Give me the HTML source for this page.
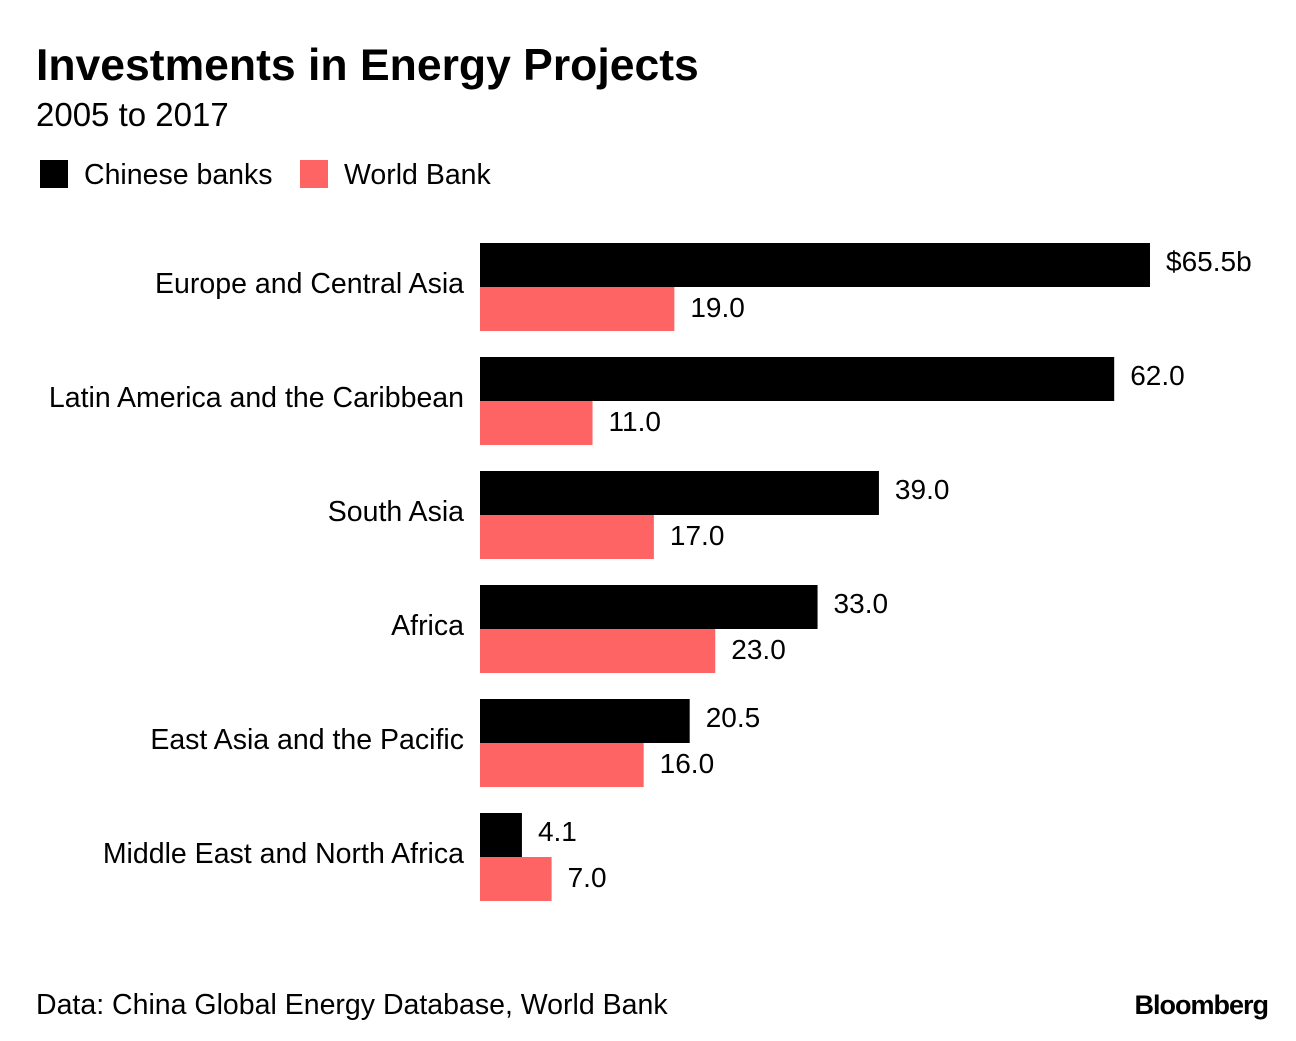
<!DOCTYPE html>
<html><head><meta charset="utf-8"><style>
body{margin:0;background:#fff;width:1296px;height:1036px;overflow:hidden;font-family:"Liberation Sans",sans-serif;}
</style></head><body>
<svg width="1296" height="1036" xmlns="http://www.w3.org/2000/svg">
<text x="36" y="80" font-size="44.5" font-weight="bold" fill="#000">Investments in Energy Projects</text>
<text x="36" y="126" font-size="33" fill="#000">2005 to 2017</text>
<g>
<rect x="40" y="160" width="28" height="28" fill="#000"/>
<text x="84" y="184" font-size="28.5">Chinese banks</text>
<rect x="300" y="160" width="28" height="28" fill="#ff6464"/>
<text x="344" y="184" font-size="28.5">World Bank</text>
</g>
<g id="bars"></g>
<text x="36" y="1014" font-size="28.5">Data: China Global Energy Database, World Bank</text>
<text x="1268" y="1014" font-size="27" font-weight="bold" text-anchor="end" letter-spacing="-1">Bloomberg</text>
</svg>
<script>
const categories=["Europe and Central Asia","Latin America and the Caribbean","South Asia","Africa","East Asia and the Pacific","Middle East and North Africa"];
const chineseBanks=[65.5,62.0,39.0,33.0,20.5,4.1];
const worldBank=[19.0,11.0,17.0,23.0,16.0,7.0];
const NS="http://www.w3.org/2000/svg";
const g=document.getElementById('bars');
const x0=480, scale=670/65.5;
const xs=v=>v*scale;
const rowY=i=>243+i*114;
function mk(tag,attrs){const e=document.createElementNS(NS,tag);for(const k in attrs)e.setAttribute(k,attrs[k]);g.appendChild(e);return e;}
categories.forEach((c,i)=>{
  const y=rowY(i);
  const lab=mk('text',{x:464,y:y+44+6,'font-size':28.5,'text-anchor':'end'});
  lab.textContent=c;
  
  
  [[chineseBanks[i],'#000',0,'bar-chinese-banks'],[worldBank[i],'#ff6464',44,'bar-world-bank']].forEach(([v,col,off,nm],j)=>{
    const r=mk('rect',{x:x0,y:y+off,width:xs(v),height:44,fill:col});
    
    
    const t=mk('text',{x:x0+xs(v)+16,y:y+off+(j===0?28:30),'font-size':28});
    t.textContent=(i===0&&j===0?'$':'')+v.toFixed(1)+(i===0&&j===0?'b':'');
    
    
  });
});
</script>
</body></html>
